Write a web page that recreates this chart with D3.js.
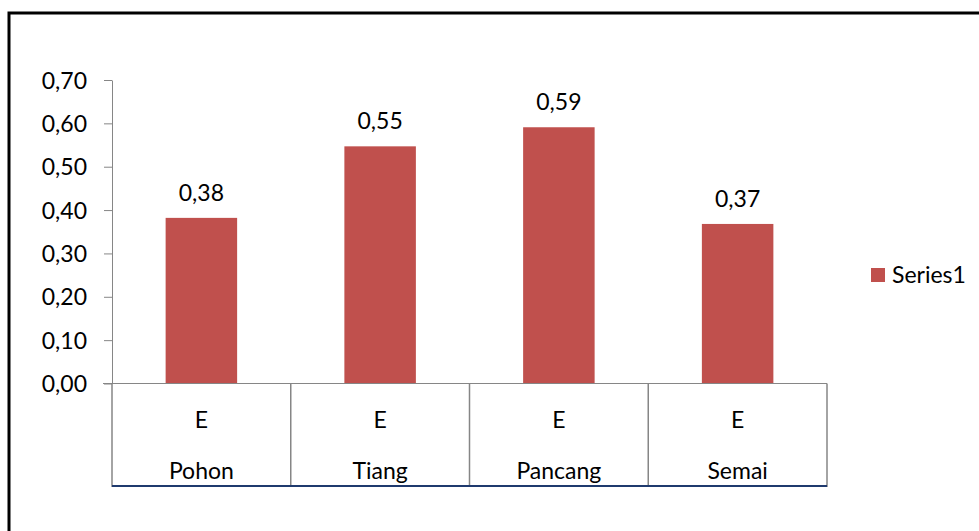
<!DOCTYPE html>
<html>
<head>
<meta charset="utf-8">
<script src="https://cdn.jsdelivr.net/npm/d3@7"></script>
<style>
  body { margin: 0; background: #fff; }
  svg text { font-family: Lato, "Open Sans", sans-serif; fill: #000; }
</style>
</head>
<body>
<svg id="chart" width="979" height="531"></svg>
<script>
const categories = ["Pohon", "Tiang", "Pancang", "Semai"];
const subLabels = ["E", "E", "E", "E"];
const values = [0.382, 0.547, 0.591, 0.368];
const yTicks = [0, 0.1, 0.2, 0.3, 0.4, 0.5, 0.6, 0.7];
const seriesName = "Series1";

const svg = d3.select("#chart");
const fmt = v => d3.format(".2f")(v).replace(".", ",");
const barColor = "#C0504D";
const fontSize = "23px";

// outer chart border (clipped at right/bottom like the screenshot)
svg.append("rect")
  .attr("x", 9).attr("y", 13)
  .attr("width", 1000).attr("height", 560)
  .attr("fill", "none").attr("stroke", "#000").attr("stroke-width", 3);

const plot = { left: 112, right: 827, top: 80, bottom: 383.5 };

const x = d3.scaleBand()
  .domain(categories)
  .range([plot.left, plot.right])
  .paddingInner(0.6).paddingOuter(0.3);

const xCat = d3.scaleBand().domain(categories).range([plot.left, plot.right]);

const y = d3.scaleLinear()
  .domain([0, 0.7])
  .range([plot.bottom, plot.top]);

// y axis
const yAxis = svg.append("g")
  .attr("transform", `translate(${plot.left},0)`)
  .call(d3.axisLeft(y).tickValues(yTicks).tickFormat(fmt).tickSize(8).tickSizeOuter(0));
yAxis.select(".domain").attr("stroke", "#868686");
yAxis.selectAll(".tick line").attr("stroke", "#868686");
yAxis.selectAll(".tick text")
  .attr("x", -25)
  .style("font-size", fontSize)
  .attr("dy", "0.35em");

// bars
svg.selectAll(".bar")
  .data(values)
  .enter().append("rect")
  .attr("class", "bar")
  .attr("x", (d, i) => x(categories[i]))
  .attr("width", x.bandwidth())
  .attr("y", d => y(d))
  .attr("height", d => y(0) - y(d))
  .attr("fill", barColor);

// data labels
svg.selectAll(".lbl")
  .data(values)
  .enter().append("text")
  .attr("class", "lbl")
  .attr("x", (d, i) => x(categories[i]) + x.bandwidth() / 2)
  .attr("y", d => y(d) - 17)
  .attr("text-anchor", "middle")
  .style("font-size", fontSize)
  .text(fmt);

// category axis (two levels)
const axisBottomY = 487;
svg.append("line")
  .attr("x1", plot.left - 9).attr("x2", plot.right)
  .attr("y1", plot.bottom).attr("y2", plot.bottom)
  .attr("stroke", "#868686");

const edges = categories.map(c => xCat(c)).concat([plot.right]);
svg.selectAll(".divider")
  .data(edges)
  .enter().append("line")
  .attr("class", "divider")
  .attr("x1", d => d).attr("x2", d => d)
  .attr("y1", plot.bottom).attr("y2", axisBottomY)
  .attr("stroke", "#868686").attr("stroke-width", 1.5);

svg.append("line")
  .attr("x1", plot.left).attr("x2", plot.right)
  .attr("y1", axisBottomY - 1).attr("y2", axisBottomY - 1)
  .attr("stroke", "#1F3A6E").attr("stroke-width", 2);

svg.selectAll(".sub")
  .data(subLabels)
  .enter().append("text")
  .attr("x", (d, i) => xCat(categories[i]) + xCat.bandwidth() / 2)
  .attr("y", 420)
  .attr("dy", "0.35em")
  .attr("text-anchor", "middle")
  .style("font-size", fontSize)
  .text(d => d);

svg.selectAll(".cat")
  .data(categories)
  .enter().append("text")
  .attr("x", d => xCat(d) + xCat.bandwidth() / 2)
  .attr("y", 471)
  .attr("dy", "0.35em")
  .attr("text-anchor", "middle")
  .style("font-size", fontSize)
  .text(d => d);

// legend
const legend = svg.append("g").attr("transform", "translate(871,268)");
legend.append("rect").attr("width", 14).attr("height", 14).attr("fill", barColor);
legend.append("text")
  .attr("x", 21).attr("y", 7).attr("dy", "0.35em")
  .style("font-size", fontSize)
  .text(seriesName);
</script>
</body>
</html>
